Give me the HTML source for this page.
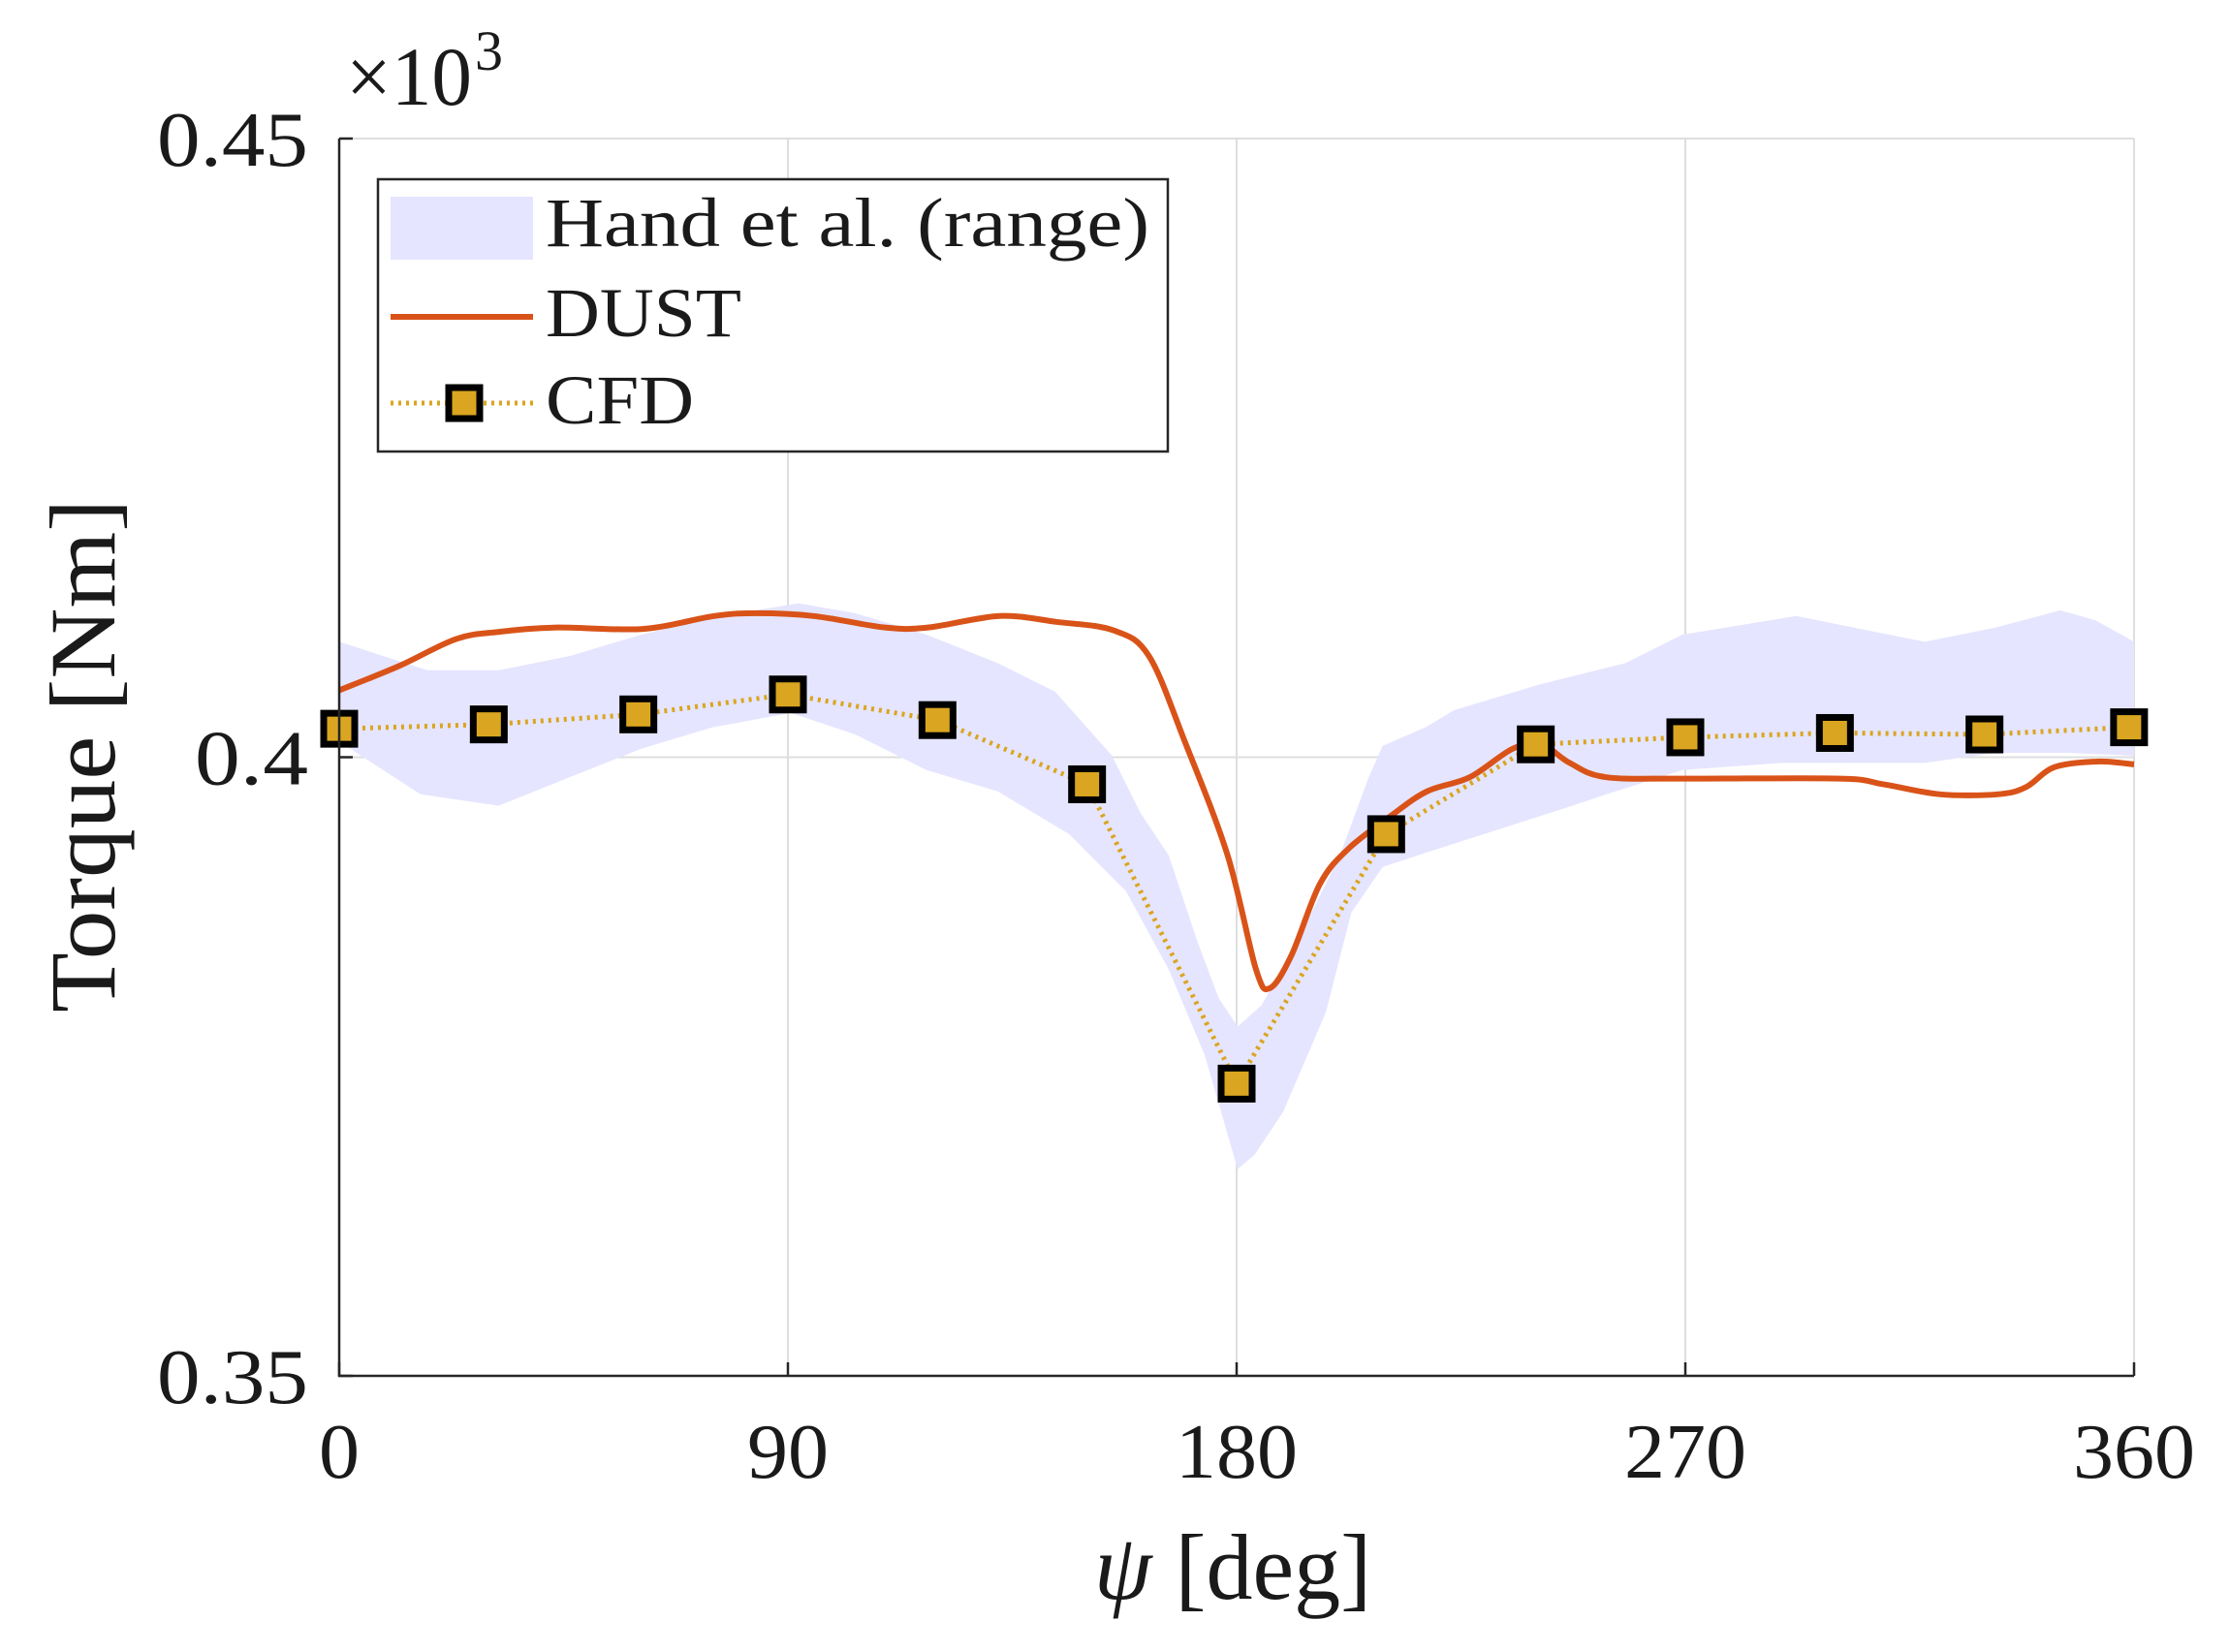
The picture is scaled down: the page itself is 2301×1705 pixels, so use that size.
<!DOCTYPE html>
<html><head><meta charset="utf-8"><style>
html,body{margin:0;padding:0;background:#fff}
svg text{font-family:"Liberation Serif",serif;fill:#1a1a1a}
</style></head><body>
<svg width="2301" height="1700" viewBox="0 0 2301 1700">
<g id="grid"></g>
<g id="band"></g>
<g id="dust"></g>
<g id="cfd"></g>
<g id="axes"></g>
<text x="357" y="108" font-size="86" textLength="130" lengthAdjust="spacingAndGlyphs">×10</text>
<text x="490" y="72" font-size="58">3</text>
<text transform="translate(118,780) rotate(-90)" text-anchor="middle" font-size="96" textLength="530" lengthAdjust="spacingAndGlyphs">Torque [Nm]</text>
<text x="1272" y="1650" text-anchor="middle" font-size="96"><tspan font-style="italic">ψ</tspan> [deg]</text>
<g>
<rect x="390" y="185" width="815" height="281" fill="#fff" stroke="#262626" stroke-width="2.5"/>
<rect x="403" y="203" width="147" height="65" fill="#e5e5ff"/>
<text x="563" y="254" font-size="72" textLength="623" lengthAdjust="spacingAndGlyphs">Hand et al. (range)</text>
<line x1="403" y1="327" x2="550" y2="327" stroke="#d95319" stroke-width="6"/>
<text x="563" y="347" font-size="72" textLength="202" lengthAdjust="spacingAndGlyphs">DUST</text>
<line x1="403" y1="416" x2="550" y2="416" stroke="#daa520" stroke-width="5" stroke-dasharray="3,5"/>
<rect x="463" y="400" width="32" height="32" fill="#daa520" stroke="#000" stroke-width="7"/>
<text x="563" y="437" font-size="72" textLength="153" lengthAdjust="spacingAndGlyphs">CFD</text>
</g>
</svg>
<script>
const xTicks=[0,90,180,270,360];
const yTicks=[0.35,0.4,0.45];
const yTickLabels=["0.35","0.4","0.45"];
const cfdDeg=[0,30,60,90,120,150,180,210,240,270,300,330,359];
const cfdVal=[0.4023,0.40265,0.40346,0.40507,0.403,0.39781,0.37362,0.39378,0.40104,0.40161,0.40196,0.40184,0.40242];
const dustDeg=[0,12,23.5,32.3,43.7,60.9,75.2,83.8,95.2,109.5,118.1,132.4,143.8,155.3,162.4,169.6,178.2,183.9,186.7,191,196.7,202.5,211,218.2,226.8,235.4,241.1,246.8,254,270,301.1,309.7,321.1,332.6,338.3,344,352.6,360];
const dustVal=[0.40541,0.40737,0.40956,0.41014,0.41048,0.41037,0.41141,0.41164,0.41141,0.41048,0.41048,0.41141,0.41094,0.41025,0.40818,0.40127,0.39205,0.38283,0.38134,0.38399,0.38975,0.39263,0.39528,0.39724,0.39839,0.40069,0.40104,0.39954,0.39839,0.39827,0.39827,0.39781,0.397,0.397,0.39758,0.39919,0.39965,0.39942];
const bandUpDeg=[0,17.7,32,46.3,60.6,74.9,92.1,103.5,117.8,132.1,143.6,155,160.7,166.4,172.1,176.4,180.2,185,192.2,200.7,206.5,209.3,217.9,223.6,240.8,257.9,269.4,292.3,303.7,318,332.3,345.2,352.3,360];
const bandUpVal=[0.40933,0.40703,0.40703,0.40818,0.40991,0.41129,0.41244,0.41164,0.40991,0.4076,0.4053,0.40012,0.39551,0.39205,0.38514,0.38053,0.37823,0.37995,0.38514,0.39205,0.39839,0.40092,0.40242,0.4038,0.40588,0.4076,0.40991,0.41141,0.41048,0.40933,0.41048,0.41187,0.41106,0.40933];
const bandLoDeg=[0,16.3,32,46.3,60.6,74.9,90.6,103.5,117.8,132.1,146.4,157.8,166.4,173.6,180.2,183.6,189.3,197.9,203,209.3,217.9,232.2,246.5,255.1,269.4,289.4,303.7,318,332.3,346.6,360];
const bandLoVal=[0.40127,0.397,0.39608,0.39839,0.40069,0.40242,0.40357,0.40184,0.39896,0.39724,0.39378,0.38917,0.38283,0.37592,0.36671,0.36786,0.37131,0.37938,0.38744,0.39113,0.39228,0.39412,0.39597,0.39712,0.39896,0.39954,0.39954,0.39954,0.40035,0.40035,0.40012];

const X0=350,X1=2202,Y0=1420,Y1=143;
const xs=d=>X0+(d/360)*(X1-X0);
const ys=v=>Y0-(v-0.35)/0.1*(Y0-Y1);
const NS="http://www.w3.org/2000/svg";
function mk(tag,parent,attrs){const e=document.createElementNS(NS,tag);for(const k in attrs)e.setAttribute(k,attrs[k]);parent.appendChild(e);return e;}
const grid=document.getElementById('grid'),axes=document.getElementById('axes');
xTicks.forEach(t=>{
  const g=mk('line',grid,{x1:xs(t),x2:xs(t),y1:Y1,y2:Y0,stroke:'#dedede','stroke-width':2});
  
  
  const tk=mk('line',axes,{x1:xs(t),x2:xs(t),y1:Y0,y2:Y0-14,stroke:'#262626','stroke-width':2.5});
  
  
  const s=String(t);
  const l=mk('text',axes,{x:xs(t),y:1525,'text-anchor':'middle','font-size':80,textLength:s.length*42,lengthAdjust:'spacingAndGlyphs'});
  l.textContent=s;
  
  
});
yTicks.forEach((t,i)=>{
  const g=mk('line',grid,{x1:X0,x2:X1,y1:ys(t),y2:ys(t),stroke:'#dedede','stroke-width':2});
  
  
  const tk=mk('line',axes,{x1:X0,x2:X0+14,y1:ys(t),y2:ys(t),stroke:'#262626','stroke-width':2.5});
  
  
  const s=yTickLabels[i];
  const l=mk('text',axes,{x:318,y:ys(t)+28,'text-anchor':'end','font-size':80,textLength:s.length*39,lengthAdjust:'spacingAndGlyphs'});
  l.textContent=s;
  
  
});
const ax=mk('path',axes,{d:`M${X0},${Y1}V${Y0}H${X1}`,fill:'none',stroke:'#262626','stroke-width':2.5});



let pts=bandUpDeg.map((d,i)=>xs(d)+','+ys(bandUpVal[i]));
for(let i=bandLoDeg.length-1;i>=0;i--)pts.push(xs(bandLoDeg[i])+','+ys(bandLoVal[i]));
const band=mk('polygon',document.getElementById('band'),{points:pts.join(' '),fill:'#e5e5ff'});



function smooth(P){let d=`M${P[0][0]},${P[0][1]}`;for(let i=0;i<P.length-1;i++){const p0=P[Math.max(0,i-1)],p1=P[i],p2=P[i+1],p3=P[Math.min(P.length-1,i+2)];
const c1=[p1[0]+(p2[0]-p0[0])/6,p1[1]+(p2[1]-p0[1])/6],c2=[p2[0]-(p3[0]-p1[0])/6,p2[1]-(p3[1]-p1[1])/6];
d+=`C${c1[0]},${c1[1]} ${c2[0]},${c2[1]} ${p2[0]},${p2[1]}`;}return d;}
const dl=mk('path',document.getElementById('dust'),{d:smooth(dustDeg.map((d,i)=>[xs(d),ys(dustVal[i])])),fill:'none',stroke:'#d95319','stroke-width':6,'stroke-linejoin':'round'});



const cg=document.getElementById('cfd');
const cl=mk('polyline',cg,{points:cfdDeg.map((d,i)=>xs(d)+','+ys(cfdVal[i])).join(' '),fill:'none',stroke:'#daa520','stroke-width':5,'stroke-dasharray':'3,5'});


cfdDeg.forEach((d,i)=>{
  const m=mk('rect',cg,{x:xs(d)-16,y:ys(cfdVal[i])-16,width:32,height:32,fill:'#daa520',stroke:'#000','stroke-width':7});
  
  
});
</script>
</body></html>
